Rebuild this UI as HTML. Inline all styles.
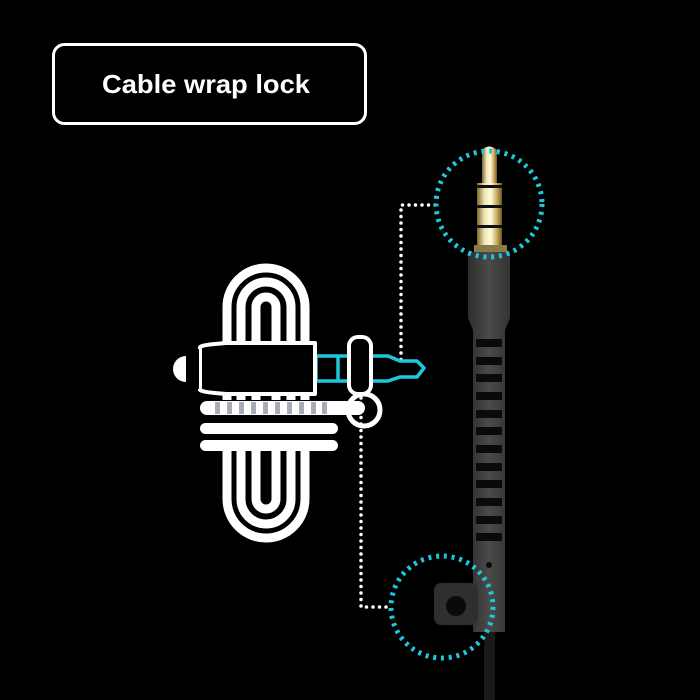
<!DOCTYPE html>
<html><head><meta charset="utf-8"><style>
html,body{margin:0;padding:0;background:#000;width:700px;height:700px;overflow:hidden}
</style></head><body>
<svg width="700" height="700" viewBox="0 0 700 700" xmlns="http://www.w3.org/2000/svg">
<defs>
<linearGradient id="gold" x1="0" x2="1" y1="0" y2="0">
<stop offset="0" stop-color="#7a6830"/><stop offset="0.3" stop-color="#f0e6b0"/><stop offset="0.55" stop-color="#fffbe0"/><stop offset="0.8" stop-color="#c8aa58"/><stop offset="1" stop-color="#6a5a28"/>
</linearGradient>
<linearGradient id="gray" x1="0" x2="1" y1="0" y2="0">
<stop offset="0" stop-color="#2e2e2e"/><stop offset="0.5" stop-color="#4a4a4a"/><stop offset="1" stop-color="#333"/>
</linearGradient>
</defs>
<rect width="700" height="700" fill="#000"/>
<rect x="53.5" y="44.5" width="312" height="79" rx="11" fill="none" stroke="#fff" stroke-width="3"/>
<text x="206" y="93" fill="#fff" font-family="Liberation Sans, sans-serif" font-weight="bold" font-size="26" text-anchor="middle" textLength="208" lengthAdjust="spacingAndGlyphs">Cable wrap lock</text>

<g stroke="#fff" stroke-width="3.5" stroke-linecap="round" stroke-dasharray="0 6.5" fill="none">
<path d="M435 205 H401 V369"/>
<path d="M361 398 V607 H392"/>
</g>
<circle cx="401" cy="369" r="3.5" fill="#fff"/>

<g fill="none" stroke="#fff" stroke-width="9">
<path d="M227 400 V307 A39 39 0 0 1 305 307 V400"/>
<path d="M241 400 V307 A25 25 0 0 1 291 307 V400"/>
<path d="M256 400 V307 A10 10 0 0 1 276 307 V400"/>
<path d="M227 450 V499 A39 39 0 0 0 305 499 V450"/>
<path d="M241 450 V499 A25 25 0 0 0 291 499 V450"/>
<path d="M256 450 V499 A10 10 0 0 0 276 499 V450"/>
</g>

<path d="M316 356 H388 L400 361 H417 L424 368 L417 377 H400 L388 381 H316 Z" fill="#000" stroke="#1ec8dc" stroke-width="3.5" stroke-linejoin="round"/>
<line x1="338" y1="357" x2="338" y2="380" stroke="#1ec8dc" stroke-width="3.5"/>
<path d="M200 347 Q203 345 215 344 L226 343 H315 V394 H226 L215 393 Q203 392 200 390 Z" fill="#000" stroke="#fff" stroke-width="4" stroke-linejoin="round"/>
<path d="M186 356 A13 13 0 0 0 186 382 Z" fill="#fff"/>
<rect x="191" y="349" width="8" height="40" fill="#000"/>
<circle cx="364" cy="410" r="16" fill="none" stroke="#fff" stroke-width="5"/>
<rect x="349" y="337" width="22" height="57" rx="9" fill="#000" stroke="#fff" stroke-width="4"/>
<rect x="200" y="401" width="165" height="14" rx="7" fill="#fff"/>
<g fill="#a8adb5">
<rect x="215" y="402" width="5" height="12"/><rect x="227" y="402" width="5" height="12"/><rect x="239" y="402" width="5" height="12"/><rect x="251" y="402" width="5" height="12"/><rect x="263" y="402" width="5" height="12"/><rect x="275" y="402" width="5" height="12"/><rect x="287" y="402" width="5" height="12"/><rect x="299" y="402" width="5" height="12"/><rect x="311" y="402" width="5" height="12"/><rect x="322" y="402" width="5" height="12"/>
</g>
<rect x="200" y="423" width="138" height="11" rx="5.5" fill="#fff"/>
<rect x="200" y="440" width="138" height="11" rx="5.5" fill="#fff"/>

<rect x="484" y="620" width="11" height="80" fill="#1a1a1a"/>
<path d="M473 330 L468 318 V252 H510 V318 L505 330 V632 H473 Z" fill="url(#gray)"/>
<g fill="#0a0a0a">
<rect x="476" y="339" width="26" height="8"/><rect x="476" y="357" width="26" height="8"/><rect x="476" y="374" width="26" height="8"/><rect x="476" y="392" width="26" height="8"/><rect x="476" y="410" width="26" height="8"/><rect x="476" y="427" width="26" height="8"/><rect x="476" y="445" width="26" height="8"/><rect x="476" y="463" width="26" height="8"/><rect x="476" y="480" width="26" height="8"/><rect x="476" y="498" width="26" height="8"/><rect x="476" y="516" width="26" height="8"/><rect x="476" y="533" width="26" height="8"/>
</g>
<circle cx="489" cy="565" r="3" fill="#0a0a0a"/>
<rect x="434" y="583" width="44" height="42" rx="7" fill="#2f2f2f"/>
<circle cx="456" cy="606" r="10" fill="#0a0a0a"/>
<path d="M482 150 Q489 143 497 150 V183 H482 Z" fill="url(#gold)"/>
<rect x="477" y="183" width="25" height="64" fill="url(#gold)"/>
<rect x="474" y="245" width="33" height="7" fill="#8a7a48"/>
<g fill="#111"><rect x="477" y="185" width="25" height="3"/><rect x="477" y="205" width="25" height="3"/><rect x="477" y="225" width="25" height="3"/></g>

<g fill="none" stroke="#1ec8dc" stroke-width="5" stroke-dasharray="3 4.8">
<circle cx="489" cy="204" r="53"/>
<circle cx="442" cy="607" r="51"/>
</g>
</svg>
</body></html>
